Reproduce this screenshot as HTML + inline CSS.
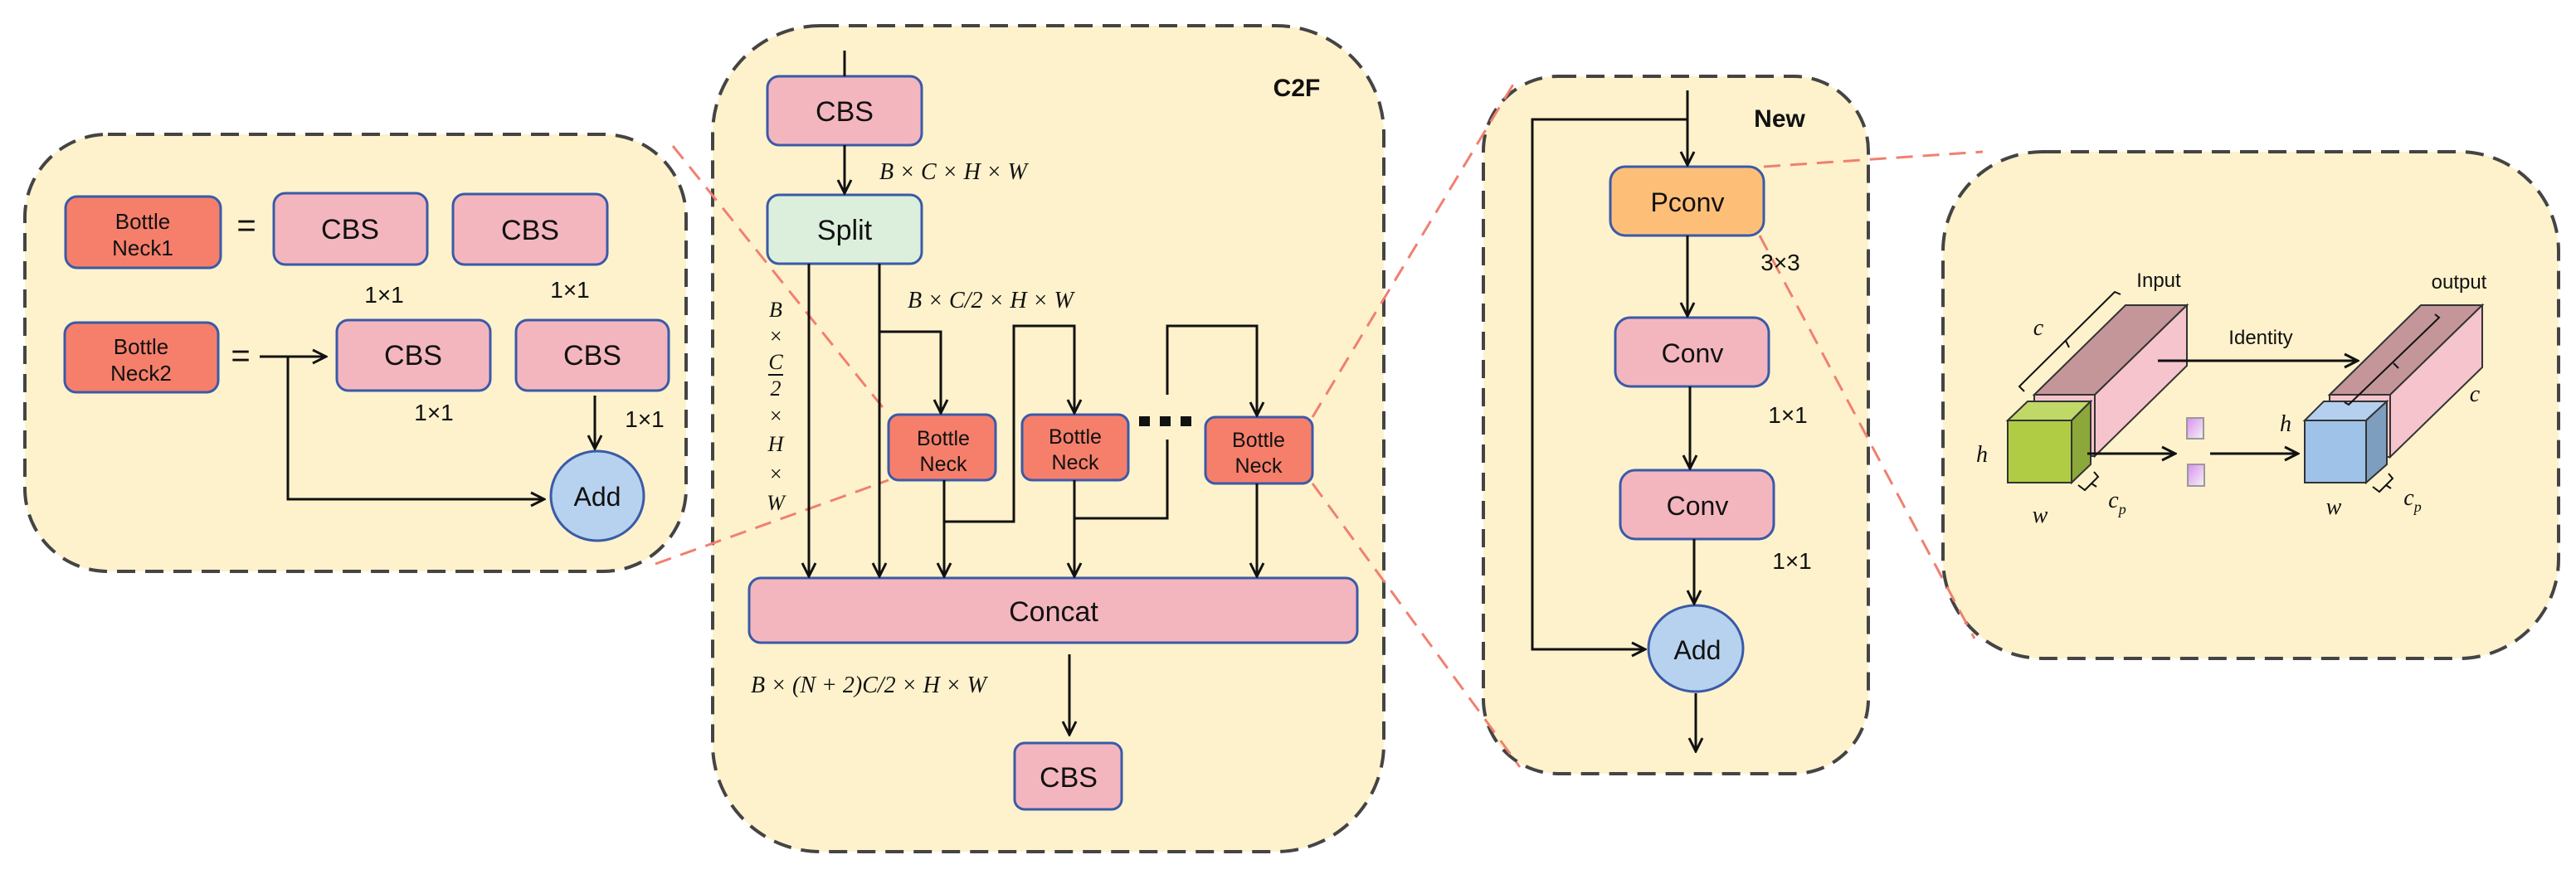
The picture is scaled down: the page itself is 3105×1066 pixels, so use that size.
<!DOCTYPE html>
<html><head><meta charset="utf-8"><style>
html,body{margin:0;padding:0;background:#fff}
svg{display:block}
.s{font-family:"Liberation Sans",sans-serif;fill:#111}
.m{font-family:"Liberation Serif",serif;font-style:italic;fill:#111}
</style></head><body>
<svg width="3105" height="1066" viewBox="0 0 3105 1066" xmlns="http://www.w3.org/2000/svg">
<defs>
<marker id="a" viewBox="0 0 20 20" refX="18" refY="10" markerWidth="20" markerHeight="20" markerUnits="userSpaceOnUse" orient="auto">
<path d="M2,2 L18,10 L2,18" fill="none" stroke="#111" stroke-width="3"/></marker>
<linearGradient id="pg" x1="0" y1="0" x2="1" y2="1"><stop offset="0" stop-color="#d98ef0"/><stop offset="1" stop-color="#f4f4f4"/></linearGradient>
</defs>
<g fill="#fef2cc" stroke="#444" stroke-width="4" stroke-dasharray="22 12">
<rect x="30" y="162" width="797" height="527" rx="100"/>
<rect x="859" y="31" width="809" height="996" rx="130"/>
<rect x="1788" y="92" width="464" height="841" rx="90"/>
<rect x="2342" y="183" width="742" height="611" rx="120"/>
</g>
<g stroke="#f08070" stroke-width="3" stroke-dasharray="20 12" fill="none">
<line x1="811" y1="176" x2="1071" y2="500"/>
<line x1="790" y1="680" x2="1071" y2="579"/>
<line x1="1582" y1="503" x2="1825" y2="100"/>
<line x1="1582" y1="583" x2="1832" y2="925"/>
<line x1="2126" y1="201" x2="2390" y2="183"/>
<line x1="2121" y1="284" x2="2380" y2="770"/>
</g>
<g stroke="#3a5aa8" stroke-width="3">
<rect x="79" y="237" width="187" height="86" rx="14" fill="#f67f6b"/>
<rect x="330" y="233" width="185" height="86" rx="14" fill="#f4b6be"/>
<rect x="546" y="234" width="186" height="85" rx="14" fill="#f4b6be"/>
<rect x="78" y="389" width="185" height="84" rx="14" fill="#f67f6b"/>
<rect x="406" y="386" width="185" height="85" rx="14" fill="#f4b6be"/>
<rect x="622" y="386" width="184" height="85" rx="14" fill="#f4b6be"/>
<ellipse cx="720" cy="598" rx="56" ry="54" fill="#b7d2ee"/>
<rect x="925" y="92" width="186" height="83" rx="14" fill="#f4b6be"/>
<rect x="925" y="235" width="186" height="83" rx="14" fill="#dcefdc"/>
<rect x="1071" y="500" width="129" height="79" rx="12" fill="#f67f6b"/>
<rect x="1232" y="500" width="128" height="79" rx="12" fill="#f67f6b"/>
<rect x="1453" y="503" width="129" height="80" rx="12" fill="#f67f6b"/>
<rect x="903" y="697" width="733" height="78" rx="14" fill="#f4b6be"/>
<rect x="1223" y="896" width="129" height="80" rx="12" fill="#f4b6be"/>
<rect x="1941" y="201" width="185" height="83" rx="18" fill="#fdbf78"/>
<rect x="1947" y="383" width="185" height="83" rx="18" fill="#f4b6be"/>
<rect x="1953" y="567" width="185" height="83" rx="18" fill="#f4b6be"/>
<ellipse cx="2044" cy="782" rx="57" ry="52" fill="#b7d2ee"/>
</g>
<g stroke="#111" stroke-width="3" fill="none">
<line x1="313" y1="430" x2="393" y2="430" marker-end="url(#a)"/>
<path d="M347,430 V602 H656" marker-end="url(#a)"/>
<line x1="717" y1="477" x2="717" y2="541" marker-end="url(#a)"/>
<line x1="1018" y1="61" x2="1018" y2="92"/>
<line x1="1018" y1="175" x2="1018" y2="233" marker-end="url(#a)"/>
<line x1="975" y1="318" x2="975" y2="695" marker-end="url(#a)"/>
<line x1="1060" y1="318" x2="1060" y2="695" marker-end="url(#a)"/>
<path d="M1060,400 H1134 V498" marker-end="url(#a)"/>
<line x1="1138" y1="579" x2="1138" y2="695" marker-end="url(#a)"/>
<path d="M1138,629 H1222 V393 H1295 V498" marker-end="url(#a)"/>
<line x1="1295" y1="579" x2="1295" y2="695" marker-end="url(#a)"/>
<path d="M1295,625 H1407 V530"/>
<path d="M1407,476 V393 H1515 V501" marker-end="url(#a)"/>
<line x1="1515" y1="583" x2="1515" y2="695" marker-end="url(#a)"/>
<line x1="1289" y1="789" x2="1289" y2="886" marker-end="url(#a)"/>
<line x1="2034" y1="109" x2="2034" y2="199" marker-end="url(#a)"/>
<path d="M2034,144 H1847 V783 H1983" marker-end="url(#a)"/>
<line x1="2034" y1="284" x2="2034" y2="381" marker-end="url(#a)"/>
<line x1="2037" y1="466" x2="2037" y2="565" marker-end="url(#a)"/>
<line x1="2042" y1="650" x2="2042" y2="728" marker-end="url(#a)"/>
<line x1="2044" y1="836" x2="2044" y2="906" marker-end="url(#a)"/>
</g>
<g fill="#111"><rect x="1373" y="502" width="13" height="12"/><rect x="1398" y="502" width="13" height="12"/><rect x="1423" y="502" width="13" height="12"/></g>
<g class="s" text-anchor="middle">
<text x="172" y="276" font-size="26">Bottle</text><text x="172" y="308" font-size="26">Neck1</text>
<text x="170" y="427" font-size="26">Bottle</text><text x="170" y="459" font-size="26">Neck2</text>
<text x="297" y="285" font-size="40">=</text><text x="290" y="442" font-size="40">=</text>
<text x="422" y="288" font-size="34">CBS</text><text x="639" y="289" font-size="34">CBS</text>
<text x="498" y="440" font-size="34">CBS</text><text x="714" y="440" font-size="34">CBS</text>
<text x="463" y="365" font-size="28">1×1</text><text x="687" y="359" font-size="28">1×1</text>
<text x="523" y="507" font-size="28">1×1</text><text x="777" y="515" font-size="28">1×1</text>
<text x="720" y="610" font-size="32">Add</text>
<text x="1018" y="146" font-size="34">CBS</text>
<text x="1018" y="289" font-size="34">Split</text>
<text x="1137" y="537" font-size="25">Bottle</text><text x="1137" y="568" font-size="25">Neck</text>
<text x="1296" y="535" font-size="25">Bottle</text><text x="1296" y="566" font-size="25">Neck</text>
<text x="1517" y="539" font-size="25">Bottle</text><text x="1517" y="570" font-size="25">Neck</text>
<text x="1270" y="749" font-size="34">Concat</text>
<text x="1288" y="949" font-size="34">CBS</text>
<text x="1563" y="116" font-size="30" font-weight="bold">C2F</text>
<text x="2145" y="153" font-size="30" font-weight="bold">New</text>
<text x="2034" y="255" font-size="32">Pconv</text>
<text x="2040" y="437" font-size="32">Conv</text>
<text x="2046" y="621" font-size="32">Conv</text>
<text x="2046" y="795" font-size="32">Add</text>
<text x="2146" y="326" font-size="28">3×3</text>
<text x="2155" y="510" font-size="28">1×1</text>
<text x="2160" y="686" font-size="28">1×1</text>
<text x="2602" y="346" font-size="24">Input</text>
<text x="2964" y="348" font-size="24">output</text>
<text x="2725" y="415" font-size="24">Identity</text>
</g>
<g class="m" font-size="28">
<text x="1060" y="216">B × C × H × W</text>
<text x="1094" y="371">B × C/2 × H × W</text>
<text x="905" y="835">B × (N + 2)C/2 × H × W</text>
<g text-anchor="middle" font-size="26">
<text x="935" y="382">B</text><text x="935" y="414">×</text><text x="935" y="445">C</text>
<line x1="926" y1="452" x2="944" y2="452" stroke="#111" stroke-width="2"/>
<text x="935" y="477">2</text><text x="935" y="510">×</text><text x="935" y="544">H</text><text x="935" y="580">×</text><text x="935" y="615">W</text>
</g>
</g>
<!-- tensor illustration -->
<g stroke="#333" stroke-width="2">
<polygon points="2452,476 2562,368 2636,368 2525,476" fill="#c4969a"/>
<polygon points="2525,476 2636,368 2636,441 2525,550" fill="#f6c4cc"/>
<rect x="2452" y="476" width="73" height="74" fill="#f6c4cc"/>
<polygon points="2420,507 2444,484 2520,484 2497,507" fill="#c0d868"/>
<polygon points="2497,507 2520,484 2520,560 2497,582" fill="#8ca83a"/>
<rect x="2420" y="507" width="77" height="75" fill="#b0cc44"/>
<polygon points="2808,476 2918,368 2992,368 2881,476" fill="#c4969a"/>
<polygon points="2881,476 2992,368 2992,443 2881,551" fill="#f6c4cc"/>
<rect x="2808" y="476" width="73" height="75" fill="#f6c4cc"/>
<polygon points="2778,507 2801,484 2877,484 2852,507" fill="#b4d0ee"/>
<polygon points="2852,507 2877,484 2877,560 2852,582" fill="#7e9ec0"/>
<rect x="2778" y="507" width="74" height="75" fill="#9ec2e8"/>
<rect x="2636" y="504" width="20" height="25" fill="url(#pg)" stroke="#999"/>
<rect x="2637" y="560" width="20" height="26" fill="url(#pg)" stroke="#999"/>
</g>
<g stroke="#111" stroke-width="3" fill="none">
<line x1="2601" y1="435" x2="2842" y2="435" marker-end="url(#a)"/>
<line x1="2516" y1="547" x2="2622" y2="547" marker-end="url(#a)"/>
<line x1="2664" y1="547" x2="2770" y2="547" marker-end="url(#a)"/>
</g>
<g stroke="#111" stroke-width="2" fill="none">
<path d="M2440,472 L2434,466 L2549,352 L2556,355 M2490,411 l4,8"/>
<path d="M2505,585 l8,6 l16,-16 l-5,-6 M2521,583 l6,4"/>
<path d="M2895,384 l5,4 l-109,105 l-5,-3 M2845,443 l6,6" transform="translate(40,-5)"/>
<path d="M2860,587 l8,6 l16,-16 l-5,-6 M2876,585 l6,4"/>
</g>
<g class="m" font-size="28" text-anchor="middle">
<text x="2457" y="404">c</text><text x="2389" y="557">h</text><text x="2459" y="630">w</text>
<text x="2552" y="612">c<tspan font-size="18" dy="8">p</tspan></text>
<text x="2755" y="520">h</text><text x="2813" y="620">w</text>
<text x="2908" y="609">c<tspan font-size="18" dy="8">p</tspan></text>
<text x="2983" y="484">c</text>
</g>
</svg>
</body></html>
